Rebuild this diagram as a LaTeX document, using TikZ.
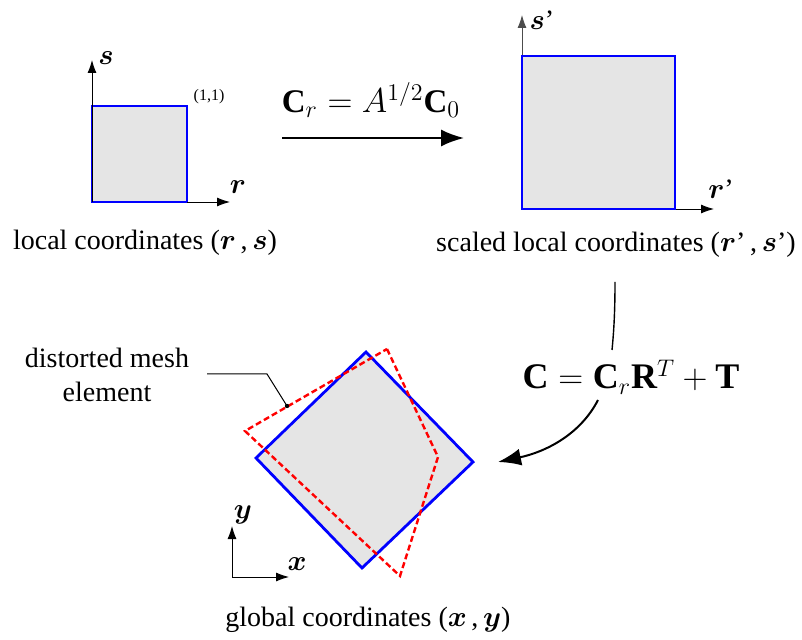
\documentclass[tikz,border=0pt]{standalone}
\usepackage{amsmath,bm}
\usepackage{fontspec}
\setmainfont{Liberation Serif}
\usetikzlibrary{arrows.meta}
\begin{document}
\begin{tikzpicture}[x=0.5pt,y=-0.5pt,
  elem/.style={draw=blue,line width=1.4pt,fill=black!10},
  axis/.style={line width=0.45pt,-{Latex[length=6.5pt,width=4.5pt]}},
  bigarrow/.style={line width=1pt,-{Latex[length=11.5pt,width=8.5pt]}},
  txt/.style={font=\fontsize{14}{17}\selectfont,inner sep=0pt},
  lab/.style={font=\fontsize{14}{17}\selectfont,inner sep=0pt},
  small/.style={font=\fontsize{8}{9}\selectfont,inner sep=0pt},
  distort/.style={draw=red,line width=1.2pt,dash pattern=on 3pt off 1.6pt}]
\useasboundingbox (0,0) rectangle (802,640);
% left square
\coordinate (o1) at (92,202);
\draw[elem] (92,106) rectangle (187,202);
\coordinate (s1) at (92,60);
\coordinate (r1) at (230,202);
\draw[axis] (o1) -- (s1);
\draw[axis] (187,202) -- (r1);
\node[lab] (ls) at (106,58) {$\bm{s}$};
\node[lab] (lr) at (238,187) {$\bm{r}$};
\node[small] (l11) at (209,97) {(1,1)};
\node[txt] (t1) at (145,243) {local coordinates ($\bm{r}$\,,\,$\bm{s}$)};
% right square
\draw[axis,draw=black!70] (522,56) -- (522,15);
\draw[axis] (675,209) -- (714,209);
\draw[elem] (522,56) rectangle (675,209);
\node[lab] (ls2) at (542,20) {$\bm{s}$’};
\node[lab] (lr2) at (721,189) {$\bm{r}$’};
\node[txt] (t2) at (616,245) {scaled local coordinates ($\bm{r}$’\,,\,$\bm{s}$’)};
% top arrow
\coordinate (a1) at (282,138);
\coordinate (a2) at (464,138);
\draw[bigarrow] (a1) -- (a2);
\node[txt,font=\fontsize{16.5}{19}\selectfont] (eq1) at (371,100) {$\mathbf{C}_r = A^{1/2}\mathbf{C}_0$};
% second transform
\node[txt,font=\fontsize{18}{21}\selectfont] (eq2) at (631,377) {$\mathbf{C} = \mathbf{C}_r\mathbf{R}^T + \mathbf{T}$};
\coordinate (v1) at (615,282);
\coordinate (v2) at (612,350);
\draw[line width=0.7pt] (v1) .. controls (615,310) and (614,330) .. (v2);
\coordinate (c1) at (598,400);
\coordinate (c2) at (498,462);
\draw[bigarrow] (c1) .. controls (580,435) and (545,452) .. (c2);
% global element
\draw[elem] (366,352) -- (473,462) -- (362,568) -- (256,458) -- cycle;
\draw[distort] (387,349) -- (438,457) -- (400,576) -- (245,431) -- cycle;
% leader
\coordinate (d1) at (287,406);
\coordinate (d0) at (207,374);
\coordinate (dk) at (267,374);
\fill (d1) circle (2.2);
\draw[line width=0.5pt] (d0) -- (dk) -- (d1);
\node[txt,align=center] (dm) at (107,375) {distorted mesh\\element};
% xy axes
\coordinate (o3) at (232,577);
\draw[axis] (o3) -- (232,526);
\draw[axis] (o3) -- (289,577);
\node[lab] (ly) at (243,515) {$\bm{y}$};
\node[lab] (lx) at (297,564) {$\bm{x}$};
\node[txt] (t3) at (368,620) {global coordinates ($\bm{x}$\,,\,$\bm{y}$)};
\end{tikzpicture}
\end{document}
